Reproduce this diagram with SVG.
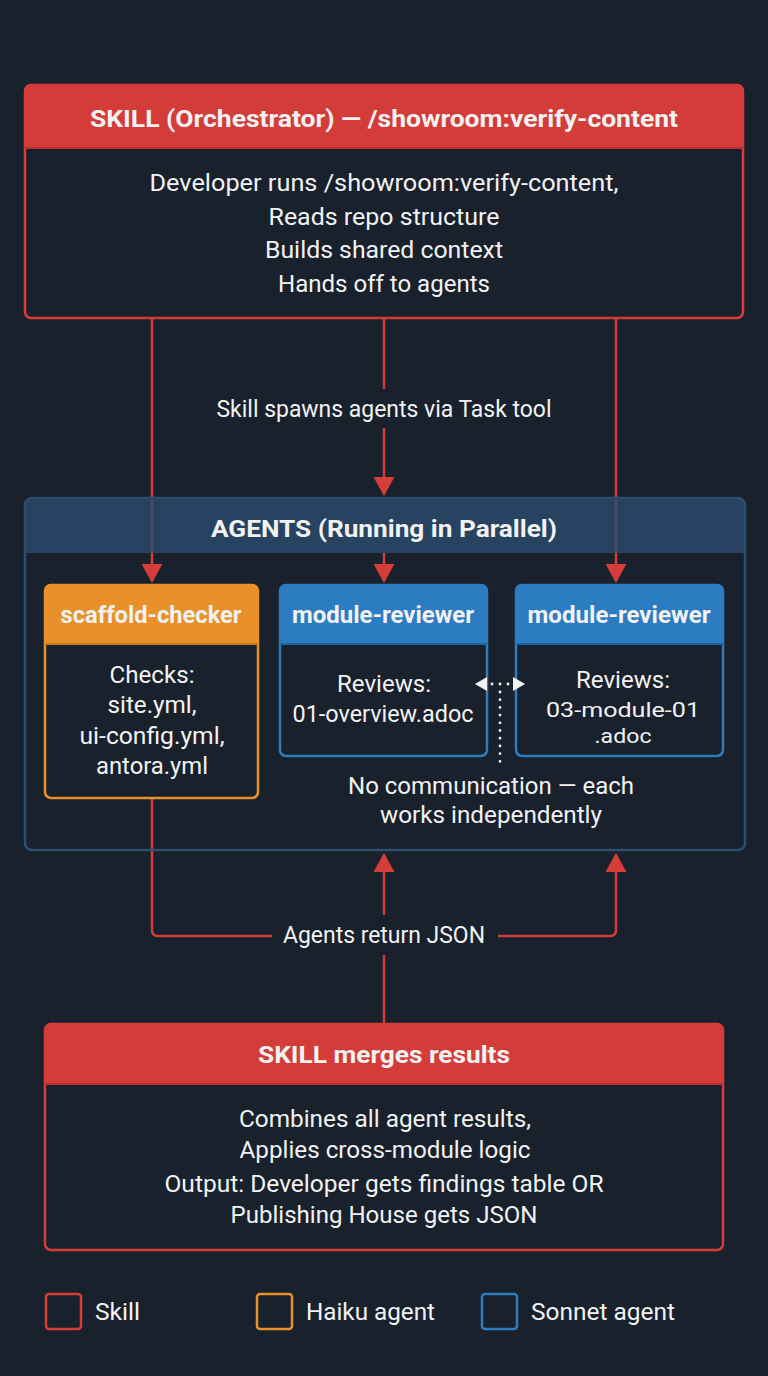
<svg xmlns="http://www.w3.org/2000/svg" width="768" height="1376" viewBox="0 0 768 1376">
<defs>
<style>
.t{font-family:Roboto,"Liberation Sans",sans-serif;fill:#f2f2f2;text-anchor:middle}
.b{font-weight:bold}
.n{font-size:23px}
.s{font-size:21px}
.h{font-size:24px}
.lg{font-family:Roboto,"Liberation Sans",sans-serif;fill:#f2f2f2;font-size:23px}
.conn{fill:none;stroke:#d63c38;stroke-width:2.5}
.body{fill:#19212d;stroke-width:2.5}
</style>
<marker id="ah" viewBox="0 0 19 21" refX="17" refY="10.5" markerUnits="userSpaceOnUse" markerWidth="19" markerHeight="21" orient="auto">
<path d="M0,0 L19,10.5 L0,21 z" fill="#d63c38"/>
</marker>
</defs>
<rect x="0" y="0" width="768" height="1376" fill="#19212d"/>

<g id="connectors">
<path class="conn" d="M152 318 V581" marker-end="url(#ah)"/>
<path class="conn" d="M384 318 V389"/>
<path class="conn" d="M384 428 V494" marker-end="url(#ah)"/>
<path class="conn" d="M384 553 V581" marker-end="url(#ah)"/>
<path class="conn" d="M616 318 V581" marker-end="url(#ah)"/>
<path class="conn" d="M152 798 V930 Q152 936 158 936 H272"/>
<path class="conn" d="M498 936 H610 Q616 936 616 930 V855" marker-end="url(#ah)"/>
<path class="conn" d="M384 1024 V955"/>
<path class="conn" d="M384 915 V855" marker-end="url(#ah)"/>
<text class="t n" x="384" y="417" textLength="335" lengthAdjust="spacingAndGlyphs">Skill spawns agents via Task tool</text>
<text class="t n" x="384" y="943" textLength="202" lengthAdjust="spacingAndGlyphs">Agents return JSON</text>
</g>

<g id="skill-orchestrator">
<rect class="body" x="25" y="85" width="718" height="233" rx="6" stroke="#d63c38"/>
<path d="M25 148 V91 Q25 85 31 85 H737 Q743 85 743 91 V148 Z" fill="#d33c38"/>
<line x1="25" y1="148" x2="743" y2="148" stroke="#b8302d" stroke-width="2"/>
<text class="t b h" x="384" y="127" textLength="588" lengthAdjust="spacingAndGlyphs">SKILL (Orchestrator) — /showroom:verify-content</text>
<text class="t n" x="384" y="191" textLength="469" lengthAdjust="spacingAndGlyphs">Developer runs /showroom:verify-content,</text>
<text class="t n" x="384" y="225" textLength="231" lengthAdjust="spacingAndGlyphs">Reads repo structure</text>
<text class="t n" x="384" y="258" textLength="238" lengthAdjust="spacingAndGlyphs">Builds shared context</text>
<text class="t n" x="384" y="292" textLength="212" lengthAdjust="spacingAndGlyphs">Hands off to agents</text>
</g>

<g id="agents-container">
<rect x="25" y="498" width="720" height="352" rx="7" fill="none" stroke="#2e4e70" stroke-width="2.5"/>
<path d="M25 553 V505 Q25 498 32 498 H738 Q745 498 745 505 V553 Z" fill="#2b4a6c" fill-opacity="0.82"/>
<text class="t b h" x="384" y="537" textLength="346" lengthAdjust="spacingAndGlyphs">AGENTS (Running in Parallel)</text>
<text class="t n" x="491" y="794" textLength="286" lengthAdjust="spacingAndGlyphs">No communication — each</text>
<text class="t n" x="491" y="823" textLength="222" lengthAdjust="spacingAndGlyphs">works independently</text>
</g>

<g id="scaffold-checker">
<rect class="body" x="45" y="585" width="213" height="213" rx="6" stroke="#e8912a"/>
<path d="M45 644 V591 Q45 585 51 585 H252 Q258 585 258 591 V644 Z" fill="#e8912a"/>
<line x1="45" y1="644" x2="258" y2="644" stroke="#c77a20" stroke-width="2"/>
<text class="t b h" x="151" y="623" textLength="181" lengthAdjust="spacingAndGlyphs">scaffold-checker</text>
<text class="t n" x="152" y="683" textLength="85" lengthAdjust="spacingAndGlyphs">Checks:</text>
<text class="t n" x="152" y="713" textLength="89" lengthAdjust="spacingAndGlyphs">site.yml,</text>
<text class="t n" x="152" y="744" textLength="145" lengthAdjust="spacingAndGlyphs">ui-config.yml,</text>
<text class="t n" x="152" y="774" textLength="112" lengthAdjust="spacingAndGlyphs">antora.yml</text>
</g>

<g id="module-reviewer-1">
<rect class="body" x="280" y="585" width="207" height="171" rx="6" stroke="#2f7dc0"/>
<path d="M280 644 V591 Q280 585 286 585 H481 Q487 585 487 591 V644 Z" fill="#2c7cc2"/>
<line x1="280" y1="644" x2="487" y2="644" stroke="#22649e" stroke-width="2"/>
<text class="t b h" x="383" y="623" textLength="182" lengthAdjust="spacingAndGlyphs">module-reviewer</text>
<text class="t n" x="384" y="692" textLength="94" lengthAdjust="spacingAndGlyphs">Reviews:</text>
<text class="t n" x="383" y="722" textLength="181" lengthAdjust="spacingAndGlyphs">01-overview.adoc</text>
</g>

<g id="module-reviewer-2">
<rect class="body" x="516" y="585" width="207" height="171" rx="6" stroke="#2f7dc0"/>
<path d="M516 644 V591 Q516 585 522 585 H717 Q723 585 723 591 V644 Z" fill="#2c7cc2"/>
<line x1="516" y1="644" x2="723" y2="644" stroke="#22649e" stroke-width="2"/>
<text class="t b h" x="619" y="623" textLength="183" lengthAdjust="spacingAndGlyphs">module-reviewer</text>
<text class="t n" x="623" y="688" textLength="94" lengthAdjust="spacingAndGlyphs">Reviews:</text>
<text class="t s" x="623" y="717" textLength="154" lengthAdjust="spacingAndGlyphs">03-module-01</text>
<text class="t s" x="623" y="743" textLength="57" lengthAdjust="spacingAndGlyphs">.adoc</text>
</g>

<g id="no-communication">
<path d="M492 684 H510" fill="none" stroke="#f2f2f2" stroke-width="2.8" stroke-linecap="round" stroke-dasharray="0 8"/>
<path d="M500 692 V766" fill="none" stroke="#f2f2f2" stroke-width="2.8" stroke-linecap="round" stroke-dasharray="0 7.7"/>
<polygon points="475,684 487,677 487,691" fill="#f2f2f2"/>
<polygon points="525,684 513,677 513,691" fill="#f2f2f2"/>
</g>

<g id="skill-merges">
<rect class="body" x="45" y="1024" width="678" height="226" rx="6" stroke="#d63c38"/>
<path d="M45 1084 V1030 Q45 1024 51 1024 H717 Q723 1024 723 1030 V1084 Z" fill="#d33c38"/>
<line x1="45" y1="1084" x2="723" y2="1084" stroke="#b8302d" stroke-width="2"/>
<text class="t b h" x="384" y="1063" textLength="252" lengthAdjust="spacingAndGlyphs">SKILL merges results</text>
<text class="t n" x="385" y="1127" textLength="292" lengthAdjust="spacingAndGlyphs">Combines all agent results,</text>
<text class="t n" x="385" y="1158" textLength="291" lengthAdjust="spacingAndGlyphs">Applies cross-module logic</text>
<text class="t n" x="384" y="1192" textLength="439" lengthAdjust="spacingAndGlyphs">Output: Developer gets findings table OR</text>
<text class="t n" x="384" y="1223" textLength="307" lengthAdjust="spacingAndGlyphs">Publishing House gets JSON</text>
</g>

<g id="legend">
<rect x="46" y="1294" width="35" height="35" rx="3" fill="none" stroke="#d63c38" stroke-width="2.5"/>
<text class="lg" x="95" y="1320" textLength="45" lengthAdjust="spacingAndGlyphs">Skill</text>
<rect x="257" y="1294" width="35" height="35" rx="3" fill="none" stroke="#e8912a" stroke-width="2.5"/>
<text class="lg" x="306" y="1320" textLength="129" lengthAdjust="spacingAndGlyphs">Haiku agent</text>
<rect x="482" y="1294" width="35" height="35" rx="3" fill="none" stroke="#2f7dc0" stroke-width="2.5"/>
<text class="lg" x="531" y="1320" textLength="144" lengthAdjust="spacingAndGlyphs">Sonnet agent</text>
</g>
</svg>
